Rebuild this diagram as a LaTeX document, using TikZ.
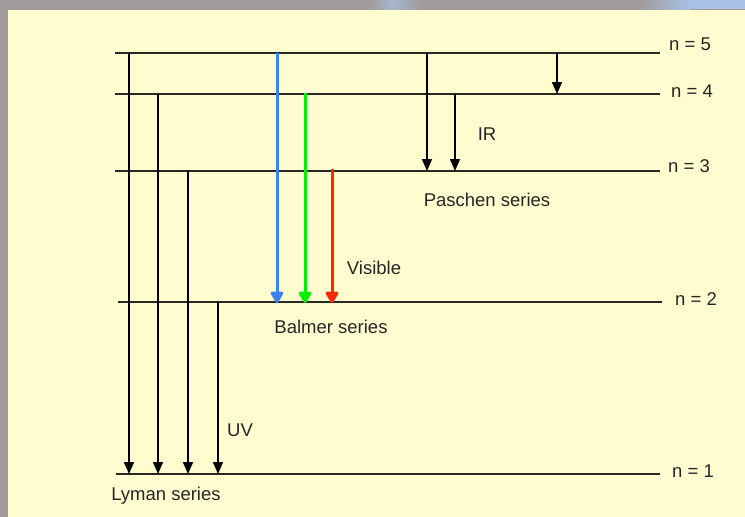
\documentclass[tikz,border=0pt]{standalone}
\usepackage{fontspec}
\setmainfont{Liberation Sans}
\usetikzlibrary{arrows.meta}
\definecolor{cream}{RGB}{255,252,208}
\definecolor{framegray}{RGB}{160,156,156}
\definecolor{frameblue}{RGB}{168,192,228}
\definecolor{lvl}{RGB}{40,40,36}
\definecolor{bblue}{RGB}{60,130,240}
\definecolor{bgreen}{RGB}{0,240,0}
\definecolor{bred}{RGB}{255,40,0}
\tikzset{
  level/.style={draw=lvl, line width=1.8pt},
  trans/.style={draw=black, line width=1.6pt, -{Triangle[width=10pt,length=12pt]}},
  vis/.style={line width=3pt, -{Triangle[width=14pt,length=13pt,round]}},
  lbl/.style={font=\fontsize{18.5}{21}\selectfont, inner sep=0pt, text=black!85},
}
\begin{document}
\begin{tikzpicture}[x=1pt,y=-1pt]
\useasboundingbox (0,0) rectangle (745,517);
\fill[cream] (0,0) rectangle (745,517);
% frame
\fill[framegray] (0,0) rectangle (8,517);
\shade[left color=framegray, right color=framegray] (0,0) rectangle (745,9);
\shade[left color=framegray, right color=frameblue] (640,0) rectangle (690,9);
\fill[frameblue] (690,0) rectangle (745,9);
\shade[left color=framegray, right color=frameblue!70!framegray] (370,0) rectangle (392,9);
\shade[left color=frameblue!70!framegray, right color=framegray] (392,0) rectangle (420,9);

% energy levels
\coordinate (L5a) at (115,53);  \coordinate (L5b) at (660,53);
\coordinate (L4a) at (115,94);  \coordinate (L4b) at (660,94);
\coordinate (L3a) at (115,171); \coordinate (L3b) at (660,171);
\coordinate (L2a) at (118,302); \coordinate (L2b) at (662,302);
\coordinate (L1a) at (116,474); \coordinate (L1b) at (660,474);
\draw[level] (L5a) -- (L5b);
\draw[level] (L4a) -- (L4b);
\draw[level] (L3a) -- (L3b);
\draw[level] (L2a) -- (L2b);
\draw[level] (L1a) -- (L1b);

\node[lbl, anchor=west] (n5) at (669,44) {n = 5};
\node[lbl, anchor=west] (n4) at (671,91) {n = 4};
\node[lbl, anchor=west] (n3) at (668,166) {n = 3};
\node[lbl, anchor=west] (n2) at (675,299) {n = 2};
\node[lbl, anchor=west] (n1) at (672,471) {n = 1};

% Lyman
\coordinate (ly5) at (129,53);  \coordinate (ly5e) at (129,474);
\coordinate (ly4) at (158,94);  \coordinate (ly4e) at (158,474);
\coordinate (ly3) at (188,171); \coordinate (ly3e) at (188,474);
\coordinate (ly2) at (218,302); \coordinate (ly2e) at (218,474);
\draw[trans] (ly5) -- (ly5e);
\draw[trans] (ly4) -- (ly4e);
\draw[trans] (ly3) -- (ly3e);
\draw[trans] (ly2) -- (ly2e);

% Balmer
\coordinate (ba5) at (277,53);  \coordinate (ba5e) at (277,303);
\coordinate (ba4) at (305,93);  \coordinate (ba4e) at (305,303);
\coordinate (ba3) at (332,169); \coordinate (ba3e) at (332,303);
\draw[vis, draw=bblue, fill=bblue] (ba5) -- (ba5e);
\draw[vis, draw=bgreen, fill=bgreen] (ba4) -- (ba4e);
\draw[vis, draw=bred, fill=bred] (ba3) -- (ba3e);

% Paschen
\coordinate (pa5) at (427,53);  \coordinate (pa5e) at (427,171);
\coordinate (pa4) at (455,94);  \coordinate (pa4e) at (455,171);
\draw[trans] (pa5) -- (pa5e);
\draw[trans] (pa4) -- (pa4e);

% Brackett
\coordinate (br5) at (557,53);  \coordinate (br5e) at (557,94);
\draw[trans] (br5) -- (br5e);

% labels
\node[lbl] (ir) at (487,134) {IR};
\node[lbl] (pas) at (487,200) {Paschen series};
\node[lbl] (visl) at (374,268) {Visible};
\node[lbl] (bal) at (331,327) {Balmer series};
\node[lbl] (uv) at (240,430) {UV};
\node[lbl] (lym) at (166,496) {Lyman series};
\end{tikzpicture}
\end{document}
